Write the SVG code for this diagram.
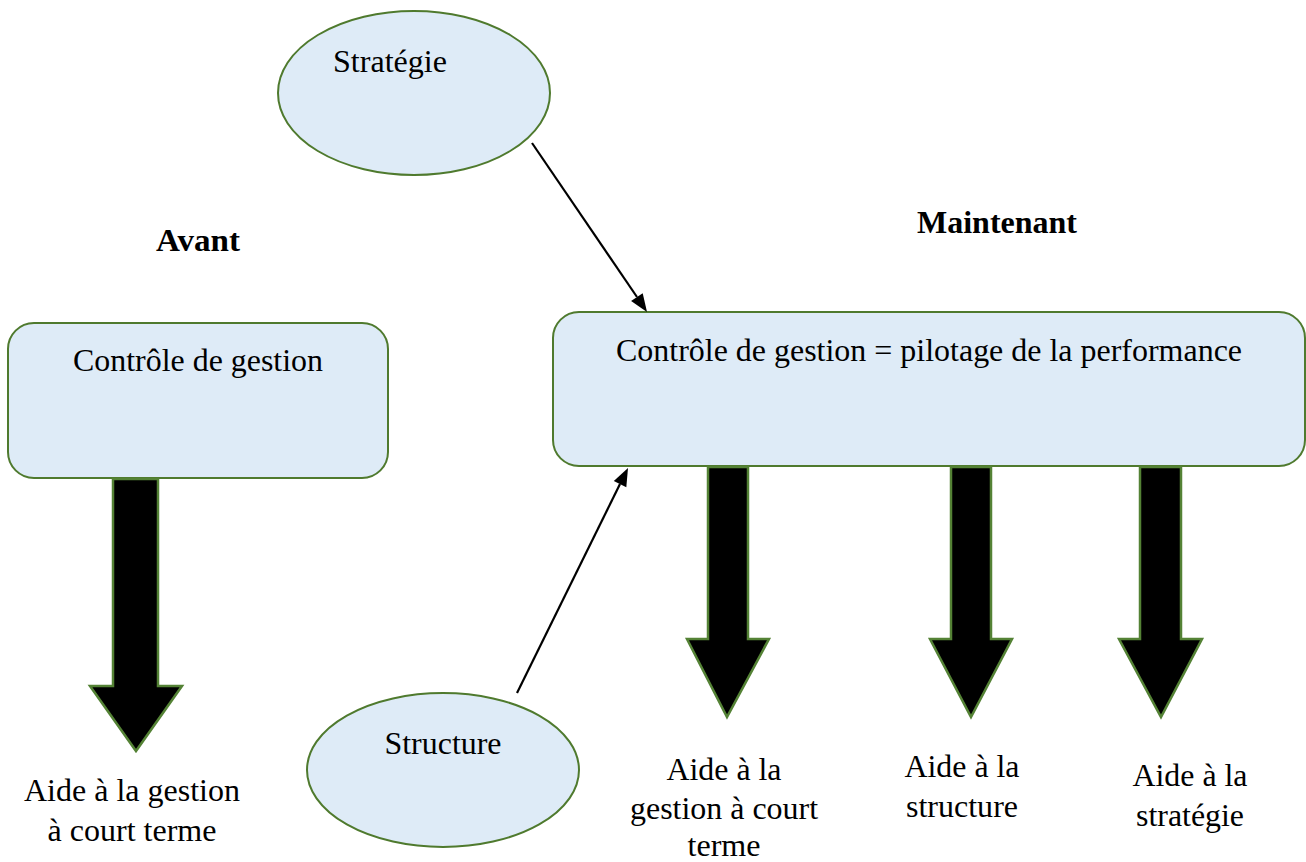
<svg xmlns="http://www.w3.org/2000/svg" width="1306" height="862" viewBox="0 0 1306 862">
<style>
.node{fill:#deebf7;stroke:#4f7a2e;stroke-width:2}
.big{fill:#000;stroke:#548235;stroke-width:2.5;stroke-linejoin:miter}
.conn{stroke:#000;stroke-width:2.2;fill:none}
.head{fill:#000;stroke:none}
text{font-family:"Liberation Serif","Times New Roman",serif;font-size:32px;fill:#000;text-anchor:middle}
</style>
<rect width="1306" height="862" fill="#fff"/>

<text font-weight="bold" x="198" y="251" textLength="84" lengthAdjust="spacingAndGlyphs">Avant</text>
<text font-weight="bold" x="997" y="233" textLength="160" lengthAdjust="spacingAndGlyphs">Maintenant</text>

<g id="strategie">
<ellipse class="node" cx="414" cy="93" rx="136" ry="82"/>
<text x="390" y="72" textLength="114" lengthAdjust="spacingAndGlyphs">Stratégie</text>
</g>

<g id="structure">
<ellipse class="node" cx="443" cy="770" rx="136" ry="77"/>
<text x="443" y="754" textLength="117" lengthAdjust="spacingAndGlyphs">Structure</text>
</g>

<g id="cg-avant">
<rect class="node" x="8" y="323" width="380" height="155" rx="26"/>
<text x="198" y="371" textLength="250" lengthAdjust="spacingAndGlyphs">Contrôle de gestion</text>
</g>

<g id="cg-maintenant">
<rect class="node" x="553" y="312" width="752" height="154" rx="26"/>
<text x="929" y="361" textLength="626" lengthAdjust="spacingAndGlyphs">Contrôle de gestion = pilotage de la performance</text>
</g>

<g id="connectors">
<line class="conn" x1="532" y1="143" x2="637" y2="297"/>
<polygon class="head" points="647,312 631.1,301.1 642.7,293.2"/>
<line class="conn" x1="517" y1="693" x2="620" y2="484"/>
<polygon class="head" points="628,468 626.3,487.2 613.8,481"/>
<path class="big" d="M113,479 L158,479 L158,686 L182,686 L136,751 L90,686 L113,686 Z"/>
<path class="big" d="M708,467 L748,467 L748,639 L769,639 L727,717 L687,639 L708,639 Z"/>
<path class="big" d="M951,467 L991,467 L991,639 L1012,639 L971,717 L930,639 L951,639 Z"/>
<path class="big" d="M1140,467 L1181,467 L1181,639 L1202,639 L1161,717 L1119,639 L1140,639 Z"/>
</g>

<g id="label-avant">
<text x="132" y="801" textLength="216" lengthAdjust="spacingAndGlyphs">Aide à la gestion</text>
<text x="132" y="841" textLength="169" lengthAdjust="spacingAndGlyphs">à court terme</text>
</g>
<g id="label-gestion">
<text x="724" y="780" textLength="115" lengthAdjust="spacingAndGlyphs">Aide à la</text>
<text x="724" y="819" textLength="188" lengthAdjust="spacingAndGlyphs">gestion à court</text>
<text x="724" y="856" textLength="73" lengthAdjust="spacingAndGlyphs">terme</text>
</g>
<g id="label-structure">
<text x="962" y="777" textLength="115" lengthAdjust="spacingAndGlyphs">Aide à la</text>
<text x="962" y="817" textLength="112" lengthAdjust="spacingAndGlyphs">structure</text>
</g>
<g id="label-strategie">
<text x="1190" y="786" textLength="115" lengthAdjust="spacingAndGlyphs">Aide à la</text>
<text x="1190" y="826" textLength="108" lengthAdjust="spacingAndGlyphs">stratégie</text>
</g>
</svg>
